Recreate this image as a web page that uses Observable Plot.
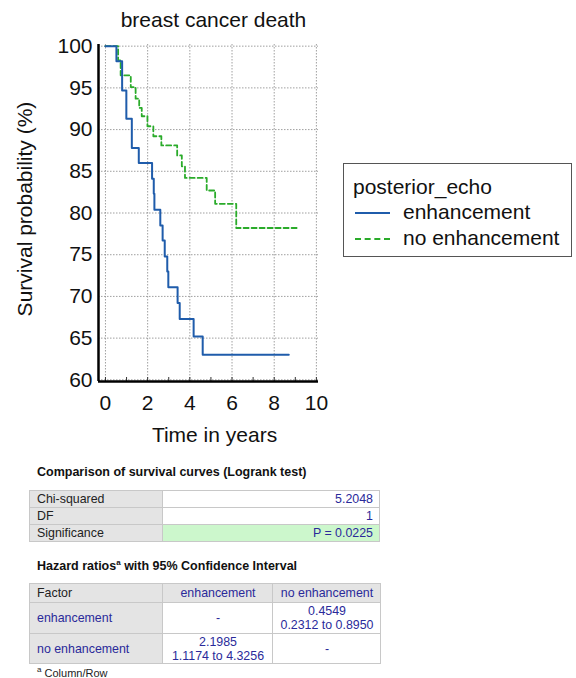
<!DOCTYPE html>
<html>
<head>
<meta charset="utf-8">
<script src="https://cdn.jsdelivr.net/npm/d3@7"></script>
<script src="https://cdn.jsdelivr.net/npm/@observablehq/plot@0.6"></script>
<style>
  body { margin: 0; background: white; font-family: "Liberation Sans", Arial, sans-serif; }
  #wrap { position: relative; width: 576px; height: 678px; }
  #legend { position: absolute; left: 343px; top: 163px; width: 227px; height: 92px; border: 1px solid #555; background: white; font-size: 21px; color: #111; }
  #legend .ttl { position: absolute; left: 9px; top: 11px; }
  #legend .row { position: absolute; left: 11px; height: 24px; }
  #legend .sw { position: absolute; left: 0; top: 12px; width: 35px; }
  #legend .lb { position: absolute; left: 48px; top: 0; white-space: nowrap; }
  .h { position: absolute; left: 37px; font-weight: bold; font-size: 12.5px; color: #111; }
  table { position: absolute; border-collapse: collapse; font-size: 12.4px; }
  td { border: 1px solid #c8c8c8; padding: 0 6px 0 7px; }
  .lab { background: #e4e4e4; color: #222; }
  .val { color: #2a2a9a; text-align: right; }
  .sig { background: #ccf7cc; }
  .hd { background: #e4e4e4; color: #2a2a9a; text-align: center; }
  .c { text-align: center; color: #2a2a9a; }
  .rl { background: #e4e4e4; color: #2a2a9a; }
  #foot { position: absolute; left: 37px; top: 665px; font-size: 11px; color: #222; }
</style>
</head>
<body>
<div id="wrap">
  <div id="chart"></div>
  <div id="legend"></div>
  <div class="h" style="top:465px">Comparison of survival curves (Logrank test)</div>
  <div id="t1"></div>
  <div class="h" style="top:558px">Hazard ratios<sup style="font-size:8px">a</sup> with 95% Confidence Interval</div>
  <div id="t2"></div>
  <div id="foot"><sup style="font-size:8px">a</sup> Column/Row</div>
</div>
<script>
// Kaplan-Meier step data (time in years, survival %)
const blueTime = [0, 0.52, 0.79, 0.99, 1.25, 1.58, 2.21, 2.29, 2.32, 2.60, 2.71, 2.81, 2.93, 2.98, 3.42, 3.52, 4.18, 4.61, 8.69];
const blueSurv = [100, 98.2, 94.7, 91.3, 87.8, 86.0, 84.1, 82.3, 80.4, 78.5, 76.7, 74.8, 73.0, 71.1, 69.2, 67.3, 65.2, 63.0, 63.0];
const greenTime = [0, 0.6, 0.72, 1.2, 1.43, 1.6, 1.72, 1.99, 2.27, 2.65, 3.4, 3.62, 3.77, 4.8, 5.2, 6.2, 9.1];
const greenSurv = [100, 98.3, 96.5, 95.1, 93.7, 92.6, 91.6, 90.4, 89.2, 88.1, 86.9, 85.6, 84.2, 82.7, 81.1, 78.2, 78.2];

const groups = ["enhancement", "no enhancement"];
const groupColors = ["#1f5cab", "#2aab2a"];
const legendTitle = "posterior_echo";

const xTicks = [0, 2, 4, 6, 8, 10];
const yTicks = [60, 65, 70, 75, 80, 85, 90, 95, 100];
const minorX = [0, 1, 2, 3, 4, 5, 6, 7, 8, 9, 10];

const chartTitle = "breast cancer death";
const xLabel = "Time in years";
const yLabel = "Survival probability (%)";

// Logrank table
const logrankLabels = ["Chi-squared", "DF", "Significance"];
const logrankValues = ["5.2048", "1", "P = 0.0225"];

// Hazard ratio table
const hrHeader = ["Factor", "enhancement", "no enhancement"];
const hrRows = [
  ["enhancement", "-", "0.4549<br>0.2312 to 0.8950"],
  ["no enhancement", "2.1985<br>1.1174 to 4.3256", "-"]
];

const blueRows = blueTime.map((t, i) => ({t, s: blueSurv[i]}));
const greenRows = greenTime.map((t, i) => ({t, s: greenSurv[i]}));

const xDomain = [-0.33, 10.1];
const yDomain = [59.8, 100.2];

const chart = Plot.plot({
  width: 576,
  height: 450,
  marginLeft: 98,
  marginRight: 258,
  marginTop: 44,
  marginBottom: 69,
  x: {domain: xDomain},
  y: {domain: yDomain},
  style: {fontFamily: "'Liberation Sans', Arial, sans-serif", fontSize: "21px", color: "#111", background: "white"},
  marks: [
    Plot.gridX(xTicks, {stroke: "#888", strokeOpacity: 0.8, strokeDasharray: "1.5,1.5"}),
    Plot.gridY(yTicks, {stroke: "#888", strokeOpacity: 0.8, strokeDasharray: "1.5,1.5"}),
    Plot.axisX(xTicks, {tickSize: 0, tickPadding: 14, label: null, fontSize: 21}),
    Plot.axisX(minorX, {tickSize: 4, text: null, label: null, dy: -4, stroke: "#333"}),
    Plot.axisY(yTicks, {tickSize: 0, tickPadding: 6, label: null, fontSize: 21}),
    Plot.ruleX([xDomain[0]], {stroke: "black", strokeWidth: 2.5}),
    Plot.ruleY([yDomain[0]], {stroke: "black", strokeWidth: 2.5}),
    Plot.line(greenRows, {x: "t", y: "s", stroke: groupColors[1], strokeWidth: 1.8, strokeDasharray: "5,3", curve: "step-after"}),
    Plot.line(blueRows, {x: "t", y: "s", stroke: groupColors[0], strokeWidth: 2, curve: "step-after"}),
    Plot.text([chartTitle], {frameAnchor: "top", lineAnchor: "middle", dy: -24, dx: 5, fontSize: 21}),
    Plot.text([xLabel], {frameAnchor: "bottom", lineAnchor: "middle", dy: 54, dx: 6, fontSize: 21}),
    Plot.text([yLabel], {frameAnchor: "left", lineAnchor: "middle", textAnchor: "middle", dx: -73, dy: -4, rotate: -90, fontSize: 21})
  ]
});
document.getElementById("chart").appendChild(chart);

// Legend
const leg = document.getElementById("legend");
let lh = `<div class="ttl">${legendTitle}</div>`;
groups.forEach((g, i) => {
  const style = i === 0
    ? `border-top: 2px solid ${groupColors[i]};`
    : `border-top: 2px dashed ${groupColors[i]};`;
  lh += `<div class="row" style="top:${36 + i * 26}px"><div class="sw" style="${style}"></div><div class="lb">${g}</div></div>`;
});
leg.innerHTML = lh;

// Table 1
let t1 = `<table style="left:29px; top:490px; width:351px; border:1px solid #aaa">`;
logrankLabels.forEach((l, i) => {
  t1 += `<tr style="height:17px"><td class="lab" style="width:119px">${l}</td><td class="val${i === 2 ? ' sig' : ''}">${logrankValues[i]}</td></tr>`;
});
t1 += `</table>`;
document.getElementById("t1").innerHTML = t1;

// Table 2
let t2 = `<table style="left:29px; top:583px; width:352px; border:1px solid #aaa">`;
t2 += `<tr style="height:19px"><td class="lab" style="width:119px">${hrHeader[0]}</td><td class="hd" style="width:96px">${hrHeader[1]}</td><td class="hd">${hrHeader[2]}</td></tr>`;
hrRows.forEach((r, i) => {
  t2 += `<tr style="height:${i === 0 ? 31 : 30}px; line-height:14px"><td class="rl">${r[0]}</td><td class="c">${r[1]}</td><td class="c">${r[2]}</td></tr>`;
});
t2 += `</table>`;
document.getElementById("t2").innerHTML = t2;
</script>
</body>
</html>
